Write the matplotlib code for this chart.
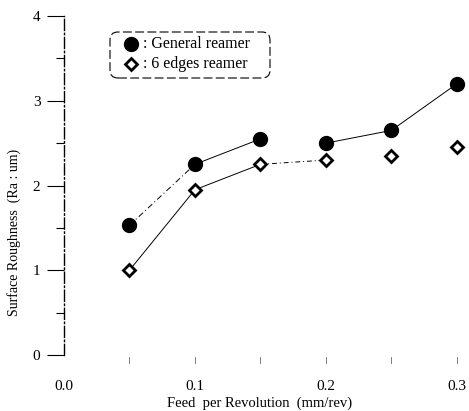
import matplotlib
matplotlib.use("Agg")
import matplotlib.pyplot as plt
from matplotlib.patches import FancyBboxPatch
from matplotlib.lines import Line2D

feed = [0.05, 0.10, 0.15, 0.20, 0.25, 0.30]
general = [1.53, 2.25, 2.55, 2.50, 2.65, 3.20]
six_edges = [1.00, 1.95, 2.25, 2.30, 2.35, 2.45]
x_ticklabels = ["0.0", "0.1", "0.2", "0.3"]
y_ticklabels = ["0", "1", "2", "3", "4"]

plt.rcParams['font.family'] = ['Liberation Serif', 'DejaVu Serif']

fig = plt.figure(figsize=(4.69, 4.11), dpi=100)
ax = fig.add_axes([0.1365, 0.1363, 0.974 - 0.1365, 0.961 - 0.1363])
ax.set_xlim(0, 0.3)
ax.set_ylim(0, 4)

lw = 0.7
# general reamer segments
ax.plot(feed[0:2], general[0:2], color='black', lw=lw, ls=(0, (6, 3, 1, 3)))
ax.plot(feed[1:3], general[1:3], color='black', lw=lw)
ax.plot(feed[3:6], general[3:6], color='black', lw=lw)
# 6 edges segments
ax.plot(feed[0:3], six_edges[0:3], color='black', lw=lw)
ax.plot(feed[2:4], six_edges[2:4], color='black', lw=lw, ls=(0, (5, 3, 1, 3)))

ax.plot(feed, general, ls='none', marker='o', ms=10, color='black', clip_on=False, zorder=5)
ax.plot(feed, six_edges, ls='none', marker='D', ms=6, mfc='white', mec='black', mew=2.0,
        clip_on=False, zorder=5)

for s in ['top', 'right', 'bottom']:
    ax.spines[s].set_visible(False)
ax.spines['left'].set_linestyle((0, (8, 2, 1, 2)))
ax.spines['left'].set_linewidth(1.0)

ax.set_yticks([0, 1, 2, 3, 4])
ax.set_yticklabels(y_ticklabels, fontsize=11)
ax.set_yticks([0.5, 1.5, 2.5, 3.5], minor=True)
ax.tick_params(axis='y', which='major', length=12, width=0.8, direction='out', pad=5)
ax.tick_params(axis='y', which='minor', length=6, width=0.8, direction='out')

ax.set_xticks([0.0, 0.1, 0.2, 0.3])
ax.set_xticklabels(x_ticklabels, fontsize=11)
ax.set_xticks([0.05, 0.15, 0.25], minor=True)
ax.tick_params(axis='x', which='major', length=0, pad=18)
ax.tick_params(axis='x', which='minor', length=0)
# faint tick marks on the x-axis
for xv in feed:
    ax.plot([xv, xv], [-0.02, -0.1], color='0.4', lw=0.6, clip_on=False)

fig.text(260 / 469, 1 - 403 / 411, "Feed  per Revolution  (mm/rev)", fontsize=10.5,
         ha='center', va='center')
fig.text(14 / 469, 1 - 232 / 411, "Surface Roughness  (Ra : um)", fontsize=10,
         ha='center', va='center', rotation=90)

# legend box
box = FancyBboxPatch((110, 411 - 78), 160, 46, boxstyle="round,pad=0,rounding_size=8",
                     transform=None, fill=False, ec='black', lw=0.8, ls=(0, (8, 3)))
fig.patches.append(box)
fig.add_artist(Line2D([131 / 469], [1 - 44 / 411], marker='o', ms=10, color='black', ls='none'))
fig.add_artist(Line2D([131 / 469], [1 - 64 / 411], marker='D', ms=6, mfc='white', mec='black',
                      mew=2.0, ls='none'))
fig.text(143 / 469, 1 - 44 / 411, ": General reamer", fontsize=11.5, va='center', ha='left')
fig.text(143 / 469, 1 - 64 / 411, ": 6 edges reamer", fontsize=11.5, va='center', ha='left')

fig.savefig("out.png", dpi=100)
